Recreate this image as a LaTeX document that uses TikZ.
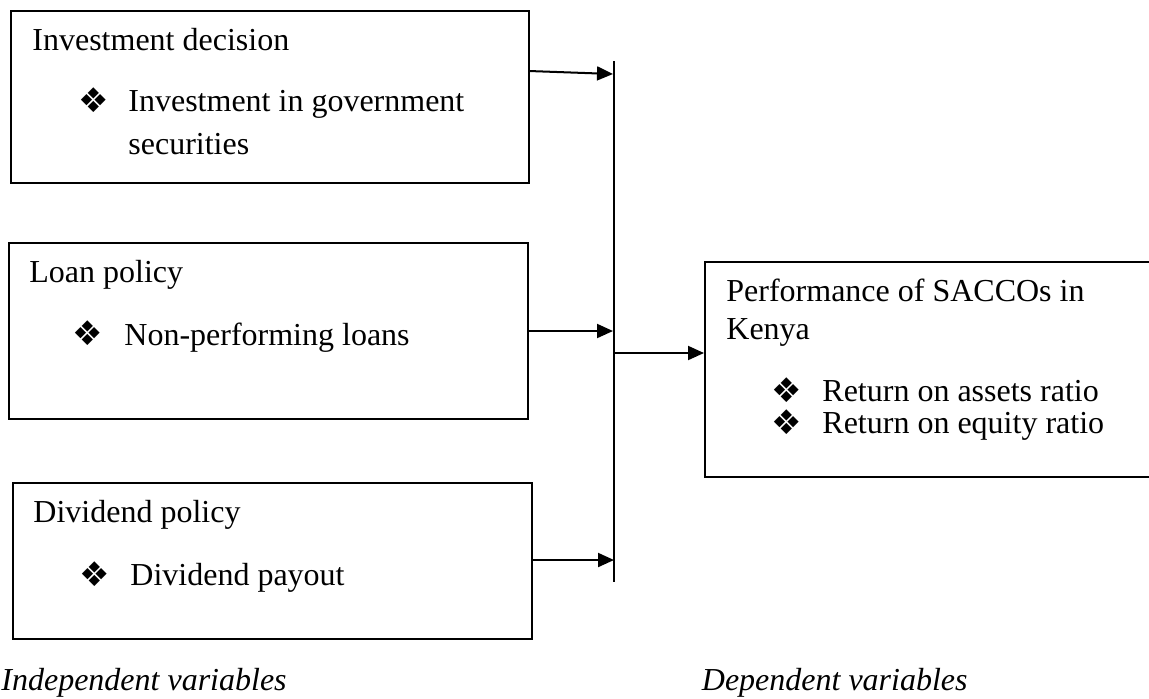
\documentclass[tikz,border=0pt]{standalone}
\usepackage{fontspec}
\setmainfont{Liberation Serif}
\newfontfamily\symfont{DejaVu Sans}
\usetikzlibrary{arrows.meta}
\begin{document}
\begin{tikzpicture}[x=0.5pt,y=-0.5pt,
  box/.style={draw,line width=0.8pt,rectangle,inner sep=0pt,anchor=north west},
  txt/.style={anchor=base west,inner sep=0pt,font=\fontsize{16pt}{19pt}\selectfont},
  itxt/.style={anchor=base west,inner sep=0pt,font=\fontsize{16pt}{19pt}\selectfont\itshape},
  bul/.style={anchor=center,inner sep=0pt,font=\symfont\fontsize{17pt}{18pt}\selectfont},
  arr/.style={line width=1pt,-{Triangle[length=8pt,width=7pt]}},
  bar/.style={line width=0.8pt}]
\useasboundingbox (0,0) rectangle (1149,698);
% boxes
\node[box,minimum width=259pt,minimum height=86pt] (b1) at (10,10) {};
\node[box,minimum width=259.5pt,minimum height=88pt] (b2) at (8,242) {};
\node[box,minimum width=259.5pt,minimum height=78pt] (b3) at (12,482) {};
\node[box,minimum width=224pt,minimum height=107.5pt] (b4) at (704,261) {};
% box 1 text (multi-line nodes anchored at their last baseline)
\node[txt] (t1) at (32,50) {Investment decision};
\node[bul] (u1) at (94,100) {❖};
\node[txt,align=left,font=\fontsize{16pt}{21.5pt}\selectfont] (t1a) at (128,154) {Investment in government\\securities};
% box 2 text
\node[txt] (t2) at (29,282) {Loan policy};
\node[bul] (u2) at (88,333) {❖};
\node[txt] (t2a) at (124,345) {Non-performing loans};
% box 3 text
\node[txt] (t3) at (33,522) {Dividend policy};
\node[bul] (u3) at (95,574) {❖};
\node[txt] (t3a) at (130,585) {Dividend payout};
% box 4 text
\node[txt,align=left] (t4) at (726,339) {Performance of SACCOs in\\Kenya};
\node[bul] (u4) at (787,390) {❖};
\node[bul] (u5) at (787,422) {❖};
\node[txt,align=left,font=\fontsize{16pt}{16pt}\selectfont] (t4c) at (822,433) {Return on assets ratio\\Return on equity ratio};
% captions
\node[itxt] (c1) at (1,690) {Independent variables};
\node[itxt,anchor=base east] (c2) at (968,690) {Dependent variables};
% junction line
\coordinate (vt) at (614,61);
\coordinate (vb) at (614,582);
\draw[bar] (vt) -- (vb);
% connectors
\coordinate (s1) at (529,71);
\coordinate (a1) at (613,74);
\coordinate (a2) at (613,331);
\coordinate (a3) at (614,560);
\coordinate (o1) at (614,353);
\draw[arr] (s1) -- (a1);
\draw[arr] (b2.east |- a2) -- (a2);
\draw[arr] (b3.east |- a3) -- (a3);
\draw[arr] (o1) -- (o1 -| b4.west);
\end{tikzpicture}
\end{document}
